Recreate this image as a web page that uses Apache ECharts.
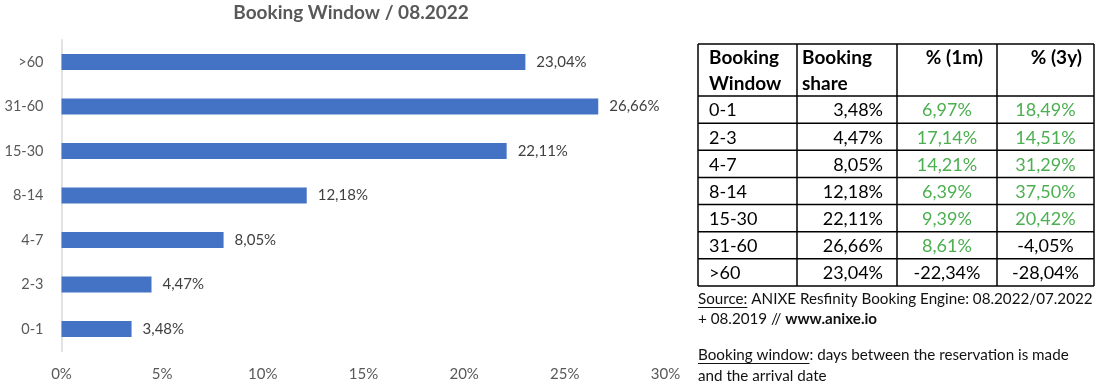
<!DOCTYPE html>
<html>
<head>
<meta charset="utf-8">
<script src="https://cdn.jsdelivr.net/npm/echarts@6/dist/echarts.min.js"></script>
<style>
html,body{margin:0;padding:0;background:#fff;}
#chart{width:1100px;height:386px;}
</style>
</head>
<body>
<div id="chart"></div>
<script>
// ---- data ----
const chartTitle = 'Booking Window / 08.2022';
const categories = ['0-1', '2-3', '4-7', '8-14', '15-30', '31-60', '>60'];
const shareValues = [3.48, 4.47, 8.05, 12.18, 22.11, 26.66, 23.04];
const change1m = [6.97, 17.14, 14.21, 6.39, 9.39, 8.61, -22.34];
const change3y = [18.49, 14.51, 31.29, 37.50, 20.42, -4.05, -28.04];
const xAxisMin = 0;
const xAxisMax = 30;
const xAxisStep = 5;
const tableHeaders = [['Booking', 'Window'], ['Booking', 'share'], ['% (1m)'], ['% (3y)']];
const sourceLabel = 'Source:';
const sourceText1 = ' ANIXE Resfinity Booking Engine: 08.2022/07.2022';
const sourceText2a = '+ 08.2019 // ';
const sourceText2b = 'www.anixe.io';
const noteLabel = 'Booking window';
const noteText1 = ': days between the reservation is made';
const noteText2 = 'and the arrival date';

// ---- helpers ----
const fmt = v => v.toFixed(2).replace('.', ',') + '%';
const FONT = 'Lato, "Open Sans", sans-serif';
const measureCanvas = document.createElement('canvas').getContext('2d');
function textWidth(t, size, weight) {
  measureCanvas.font = (weight || 'normal') + ' ' + size + 'px ' + FONT;
  return measureCanvas.measureText(t).width;
}

// ---- table graphics ----
const colX = [698, 797, 897, 997, 1094];
const headTop = 44, headBottom = 96;
const rowH = (286 - headBottom) / categories.length;
const tableBottom = headBottom + rowH * categories.length;
const green = '#4CAF50';
const bodySize = 18;
const g = [];
const lineStyle = { stroke: '#000', lineWidth: 1.5 };
const hYs = [headTop, headBottom];
for (let i = 1; i <= categories.length; i++) hYs.push(headBottom + rowH * i);
hYs.forEach(y => g.push({ type: 'line', shape: { x1: colX[0], y1: y, x2: colX[4], y2: y }, style: lineStyle, silent: true }));
colX.forEach(x => g.push({ type: 'line', shape: { x1: x, y1: headTop, x2: x, y2: tableBottom }, style: lineStyle, silent: true }));
const headerPos = [
  { x: colX[0] + 11, align: 'left' },
  { x: colX[1] + 5, align: 'left' },
  { x: colX[3] - 14, align: 'right' },
  { x: colX[4] - 12, align: 'right' }
];
tableHeaders.forEach((lines, c) => {
  lines.forEach((t, li) => {
    g.push({ type: 'text', x: headerPos[c].x, y: 58 + li * 26,
      style: { text: t, fill: '#000', font: 'bold 19px ' + FONT, align: headerPos[c].align, verticalAlign: 'middle' } });
  });
});
categories.forEach((cat, i) => {
  const y = headBottom + rowH * (i + 0.5) + 1;
  const f = bodySize + 'px ' + FONT;
  g.push({ type: 'text', x: colX[0] + 11, y, style: { text: cat, fill: '#000', font: f, align: 'left', verticalAlign: 'middle' } });
  g.push({ type: 'text', x: colX[2] - 14, y, style: { text: fmt(shareValues[i]), fill: '#000', font: f, align: 'right', verticalAlign: 'middle' } });
  g.push({ type: 'text', x: (colX[2] + colX[3]) / 2, y, style: { text: fmt(change1m[i]), fill: change1m[i] >= 0 ? green : '#000', font: f, align: 'center', verticalAlign: 'middle' } });
  g.push({ type: 'text', x: (colX[3] + colX[4]) / 2, y, style: { text: fmt(change3y[i]), fill: change3y[i] >= 0 ? green : '#000', font: f, align: 'center', verticalAlign: 'middle' } });
});
const noteSize = 15.2;
const nf = noteSize + 'px ' + FONT;
const nfb = 'bold ' + noteSize + 'px ' + FONT;
const noteColor = '#111';
const x0 = 698;
const srcW = textWidth(sourceLabel, noteSize);
g.push({ type: 'text', x: x0, y: 299, style: { text: sourceLabel, fill: noteColor, font: nf, verticalAlign: 'middle' } });
g.push({ type: 'line', shape: { x1: x0, y1: 307.5, x2: x0 + srcW, y2: 307.5 }, style: { stroke: noteColor, lineWidth: 1 } });
g.push({ type: 'text', x: x0 + srcW, y: 299, style: { text: sourceText1, fill: noteColor, font: nf, verticalAlign: 'middle' } });
const s2aW = textWidth(sourceText2a, noteSize);
g.push({ type: 'text', x: x0, y: 319, style: { text: sourceText2a, fill: noteColor, font: nf, verticalAlign: 'middle' } });
g.push({ type: 'text', x: x0 + s2aW, y: 319, style: { text: sourceText2b, fill: noteColor, font: nfb, verticalAlign: 'middle' } });
const noteW = textWidth(noteLabel, noteSize);
g.push({ type: 'text', x: x0, y: 355, style: { text: noteLabel, fill: noteColor, font: nf, verticalAlign: 'middle' } });
g.push({ type: 'line', shape: { x1: x0, y1: 363.5, x2: x0 + noteW, y2: 363.5 }, style: { stroke: noteColor, lineWidth: 1 } });
g.push({ type: 'text', x: x0 + noteW, y: 355, style: { text: noteText1, fill: noteColor, font: nf, verticalAlign: 'middle' } });
g.push({ type: 'text', x: x0, y: 376, style: { text: noteText2, fill: noteColor, font: nf, verticalAlign: 'middle' } });
g.push({ type: 'text', x: 351, y: 13, style: { text: chartTitle, fill: '#595959', font: 'bold 19px ' + FONT, align: 'center', verticalAlign: 'middle' } });

const chart = echarts.init(document.getElementById('chart'), null, { renderer: 'canvas' });
chart.setOption({
  animation: false,
  backgroundColor: '#fff',
  textStyle: { fontFamily: FONT },
  grid: { left: 61.5, right: 434.5, top: 39.75, bottom: 34.75, containLabel: false },
  xAxis: {
    type: 'value', min: xAxisMin, max: xAxisMax, interval: xAxisStep,
    axisLine: { show: false }, axisTick: { show: false }, splitLine: { show: false },
    axisLabel: { formatter: '{value}%', color: '#595959', fontSize: 15, margin: 15, fontFamily: FONT }
  },
  yAxis: {
    type: 'category', data: categories,
    axisLine: { show: true, lineStyle: { color: '#d9d9d9', width: 1.5 } },
    axisTick: { show: false },
    axisLabel: { color: '#595959', fontSize: 14.5, margin: 18, fontFamily: FONT }
  },
  series: [{
    type: 'bar', data: shareValues, barWidth: 16,
    itemStyle: { color: '#4472C4' },
    label: { show: true, position: 'right', distance: 11, color: '#404040', fontSize: 15, fontFamily: FONT,
      formatter: p => fmt(p.value) }
  }],
  graphic: g
});
</script>
</body>
</html>
